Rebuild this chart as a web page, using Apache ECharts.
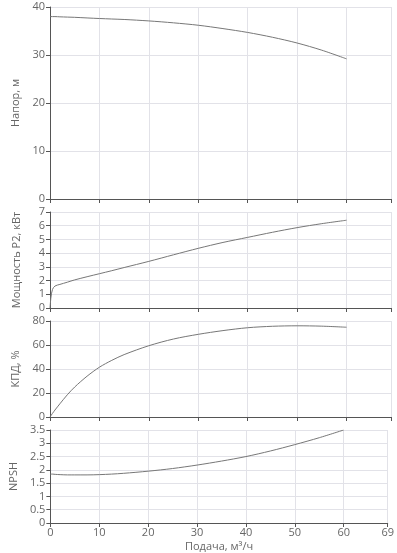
<!DOCTYPE html>
<html>
<head>
<meta charset="utf-8">
<style>
  html, body { margin: 0; padding: 0; background: #fff; }
  #main { width: 397px; height: 553px; }
</style>
</head>
<body>
<div id="main"></div>
<script src="https://cdn.jsdelivr.net/npm/echarts@6/dist/echarts.min.js"></script>
<script>
// подача, м3/ч
var flow = [0, 0.2, 0.5, 1, 2, 3.5, 5, 7.5, 10, 12.5, 15, 20, 25, 30, 35, 40, 45, 50, 55, 60];
// напор, м
var head = [38.0, 38.0, 38.0, 38.0, 37.95, 37.9, 37.85, 37.72, 37.6, 37.5, 37.4, 37.1, 36.7, 36.2, 35.5, 34.7, 33.7, 32.5, 31.0, 29.2];
// мощность P2, кВт
var power = [0, 0.8, 1.35, 1.6, 1.72, 1.88, 2.05, 2.28, 2.5, 2.72, 2.95, 3.4, 3.88, 4.35, 4.78, 5.15, 5.52, 5.86, 6.15, 6.4];
// КПД, %
var eff = [0, 1.2, 3, 5.8, 11, 18.5, 25, 34, 41.5, 47.2, 52, 59.4, 65, 68.9, 72, 74.4, 75.6, 76, 75.7, 74.8];
// NPSH, м
var npsh = [1.84, 1.84, 1.84, 1.83, 1.82, 1.81, 1.81, 1.81, 1.82, 1.84, 1.87, 1.95, 2.05, 2.18, 2.33, 2.5, 2.71, 2.95, 3.21, 3.5];

var yNames = ['Напор, м', 'Мощность P2, кВт', 'КПД, %', 'NPSH'];
var yMax = [40, 7, 80, 3.5];
var yStep = [10, 1, 20, 0.5];
var series = [head, power, eff, npsh];

var tops = [7, 212, 321, 430];
var heights = [192, 96, 96, 95];

function pairs(ys) {
  return flow.map(function (q, i) { return [q, ys[i]]; });
}

var txt = '#666';
var grids = [], xAxes = [], yAxes = [], ser = [];
for (var i = 0; i < 4; i++) {
  grids.push({ left: 50, right: 6, top: tops[i], height: heights[i] });
  xAxes.push({
    type: 'value', gridIndex: i, min: 0, max: 69, interval: 10,
    axisLine: { lineStyle: { color: '#555' } },
    axisTick: { show: true, length: 4, lineStyle: { color: '#555' } },
    axisLabel: { show: i === 3, color: txt, fontSize: 11, margin: 4, fontFamily: 'Open Sans' },
    splitLine: { lineStyle: { color: '#e2e2e8' } },
    name: i === 3 ? 'Подача, м³/ч' : '',
    nameLocation: 'middle', nameGap: 18,
    nameTextStyle: { color: txt, fontSize: 11, fontFamily: 'Open Sans' }
  });
  yAxes.push({
    type: 'value', gridIndex: i, min: 0, max: yMax[i], interval: yStep[i],
    axisLine: { show: true, lineStyle: { color: '#555' } },
    axisTick: { show: true, length: 4, lineStyle: { color: '#555' } },
    axisLabel: { color: txt, fontSize: 11, margin: 5, fontFamily: 'Open Sans' },
    splitLine: { lineStyle: { color: '#e2e2e8' } },
    name: yNames[i], nameLocation: 'middle', nameGap: 28, nameRotate: 90,
    nameTextStyle: { color: txt, fontSize: 11, fontFamily: 'Open Sans' }
  });
  ser.push({
    type: 'line', xAxisIndex: i, yAxisIndex: i, data: pairs(series[i]),
    smooth: 0.3, showSymbol: false, silent: true,
    lineStyle: { color: '#777', width: 1 }
  });
}

var myChart = echarts.init(document.getElementById('main'));
myChart.setOption({
  animation: false,
  grid: grids,
  xAxis: xAxes,
  yAxis: yAxes,
  series: ser
});
</script>
</body>
</html>
